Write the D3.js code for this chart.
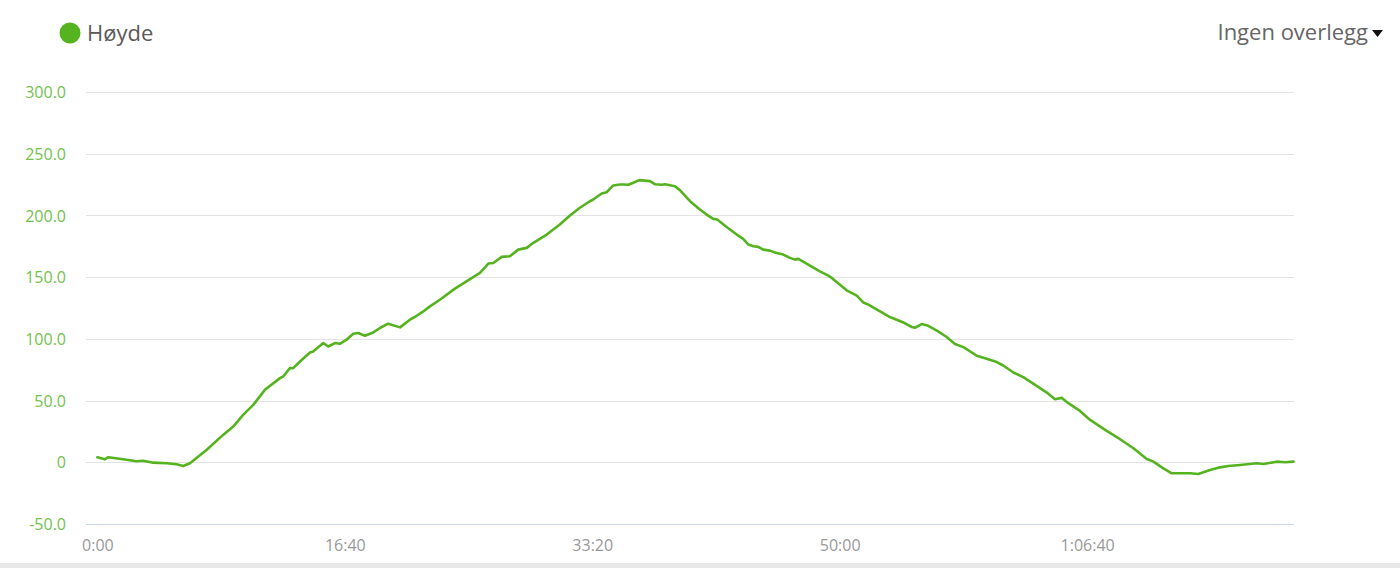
<!DOCTYPE html>
<html>
<head>
    <meta charset="utf-8">
    <script type="text/javascript" src="https://cdn.jsdelivr.net/npm/d3@7"></script>
    <style>
        body { margin: 0; background: #fff; }
        text { font-family: "Open Sans", "DejaVu Sans", sans-serif; }
    </style>
</head>
<body>
    <div id="viz"></div>
    <script type="text/javascript">

    // elapsed time in seconds, height in metres
    var elapsedSec = [0, 30, 44, 104, 158, 185, 226, 280, 320, 347, 374, 441, 508, 549, 589, 630,
        677, 738, 751, 778, 791, 819, 859, 872, 913, 933, 960, 980, 1007, 1034, 1054, 1081,
        1115, 1142, 1175, 1223, 1263, 1283, 1317, 1344, 1384, 1445, 1490, 1546, 1580, 1600,
        1634, 1667, 1701, 1735, 1762, 1816, 1869, 1910, 1950, 1984, 2004, 2038, 2058, 2085,
        2112, 2125, 2146, 2166, 2190, 2233, 2253, 2281, 2294, 2334, 2354, 2395, 2435, 2462,
        2489, 2505, 2543, 2584, 2610, 2631, 2651, 2671, 2691, 2718, 2745, 2772, 2799, 2819,
        2833, 2873, 2920, 2954, 2968, 3028, 3069, 3095, 3116, 3163, 3203, 3257, 3291, 3304,
        3331, 3358, 3398, 3432, 3466, 3500, 3554, 3594, 3635, 3661, 3702, 3742, 3796, 3837,
        3870, 3897, 3924, 3971, 4012, 4079, 4133, 4187, 4241, 4268, 4308, 4342, 4416, 4449,
        4497, 4537, 4571, 4618, 4686, 4712, 4766, 4800, 4834];
    var heightM = [4.1, 2.4, 4.1, 2.4, 0.8, 1.3, -0.3, -0.8, -1.6, -3.0, -0.8, 10.0, 22.2, 28.9, 38.4, 46.5,
        58.7, 68.2, 69.5, 76.3, 76.3, 81.7, 89.0, 89.8, 96.6, 93.8, 96.6, 96.0, 99.3, 104.1, 104.7, 102.5,
        105.2, 108.8, 112.3, 109.3, 115.5, 117.7, 122.2, 126.3, 131.7, 140.7, 146.3, 153.4, 161.0, 161.5,
        166.4, 166.9, 172.3, 173.7, 177.8, 184.5, 192.6, 199.9, 206.2, 210.7, 212.9, 217.8, 218.8, 224.3,
        225.1, 225.1, 224.8, 226.5, 228.6, 227.8, 225.3, 224.8, 225.3, 223.7, 220.5, 211.5, 204.8, 200.7,
        197.2, 196.7, 190.7, 184.5, 181.0, 176.4, 175.0, 174.5, 172.3, 171.5, 169.6, 168.3, 165.6, 164.2,
        164.8, 160.1, 154.7, 151.2, 149.4, 139.3, 135.0, 129.5, 127.7, 122.2, 117.7, 113.3, 109.6, 109.0,
        112.0, 110.6, 106.0, 101.5, 95.8, 93.3, 86.3, 83.8, 81.2, 78.4, 72.7, 69.0, 61.9, 56.5,
        51.1, 52.2, 47.9, 41.6, 34.3, 25.4, 18.7, 11.4, 2.7, 0.5, -4.9, -8.9, -8.9, -9.5,
        -6.3, -4.1, -3.0, -2.2, -0.8, -1.4, 0.5, 0, 0.5];

    var yTicks = [-50, 0, 50, 100, 150, 200, 250, 300];
    var xTicks = [0, 1000, 2000, 3000, 4000];
    var seriesName = "Høyde";
    var overlayLabel = "Ingen overlegg";

    var width = 1400, height = 568;
    var plotLeft = 86, plotRight = 1294;
    var plotTop = 92, plotBottom = 524;

    var lineGreen = "#55b320";
    var labelGreen = "#72c24c";

    function fmtTime(s)
    {
        var h = Math.floor(s / 3600);
        var m = Math.floor((s % 3600) / 60);
        var sec = s % 60;
        var ss = (sec < 10 ? "0" : "") + sec;
        if( h > 0 )
            return h + ":" + (m < 10 ? "0" : "") + m + ":" + ss;
        return m + ":" + ss;
    }

    function fmtHeight(v)
    {
        return v === 0 ? "0" : v.toFixed(1);
    }

    function drawChart()
    {
        var svg = d3.select("#viz")
            .append("svg")
            .attr("width", width)
            .attr("height", height);

        // small padding either side of the data, like the original
        var x = d3.scaleLinear().domain([-46, 4836]).range([plotLeft, plotRight]);
        var y = d3.scaleLinear().domain([-50, 300]).range([plotBottom, plotTop]);

        // grid lines
        svg.append("g").selectAll("line")
            .data(yTicks.filter(function(d) { return d !== -50; }))
            .enter().append("line")
            .attr("x1", plotLeft)
            .attr("x2", plotRight)
            .attr("y1", function(d) { return Math.round(y(d)) + 0.5; })
            .attr("y2", function(d) { return Math.round(y(d)) + 0.5; })
            .style("stroke", "#e3e3e3")
            .style("stroke-width", 1);

        // x axis line sits on the bottom gridline
        svg.append("line")
            .attr("x1", plotLeft)
            .attr("x2", plotRight)
            .attr("y1", Math.round(y(-50)) + 0.5)
            .attr("y2", Math.round(y(-50)) + 0.5)
            .style("stroke", "#ccd6eb");

        // y labels
        var yAxis = d3.axisLeft(y).tickValues(yTicks).tickFormat(fmtHeight).tickSize(0).tickPadding(0);
        var gy = svg.append("g").attr("transform", "translate(66,0)").call(yAxis);
        gy.select(".domain").remove();
        gy.selectAll("text")
            .attr("dy", "0.35em")
            .style("font-family", "'Open Sans', sans-serif")
            .style("font-size", "16px")
            .style("fill", labelGreen);

        // x labels
        var xAxis = d3.axisBottom(x).tickValues(xTicks).tickFormat(fmtTime).tickSize(0).tickPadding(0);
        var gx = svg.append("g").attr("transform", "translate(0,551)").call(xAxis);
        gx.select(".domain").remove();
        gx.selectAll("text")
            .attr("y", 0)
            .attr("dy", 0)
            .style("font-family", "'Open Sans', sans-serif")
            .style("font-size", "16px")
            .style("fill", "#999");

        // the height trace
        var pts = elapsedSec.map(function(t, i) { return [t, heightM[i]]; });
        var line = d3.line()
            .x(function(d) { return x(d[0]); })
            .y(function(d) { return y(d[1]); });

        svg.append("path")
            .datum(pts)
            .attr("d", line)
            .style("fill", "none")
            .style("stroke", lineGreen)
            .style("stroke-width", 2.6)
            .style("stroke-linejoin", "round")
            .style("stroke-linecap", "round");

        // legend
        svg.append("circle")
            .attr("cx", 70)
            .attr("cy", 33)
            .attr("r", 10.5)
            .style("fill", lineGreen);
        svg.append("text")
            .attr("x", 87)
            .attr("y", 41)
            .text(seriesName)
            .style("font-size", "22px")
            .style("fill", "#5a5a5a");

        // overlay dropdown, top right
        svg.append("text")
            .attr("x", 1368)
            .attr("y", 40)
            .attr("text-anchor", "end")
            .text(overlayLabel)
            .style("font-size", "22px")
            .style("fill", "#666");
        svg.append("path")
            .attr("d", "M1372,30 L1383,30 L1377.5,37 Z")
            .style("fill", "#111");

        // grey strip at the very bottom
        svg.append("rect")
            .attr("x", 0)
            .attr("y", 563)
            .attr("width", width)
            .attr("height", 5)
            .style("fill", "#e8e8e8");
    }

    drawChart();

    </script>
</body>
</html>
